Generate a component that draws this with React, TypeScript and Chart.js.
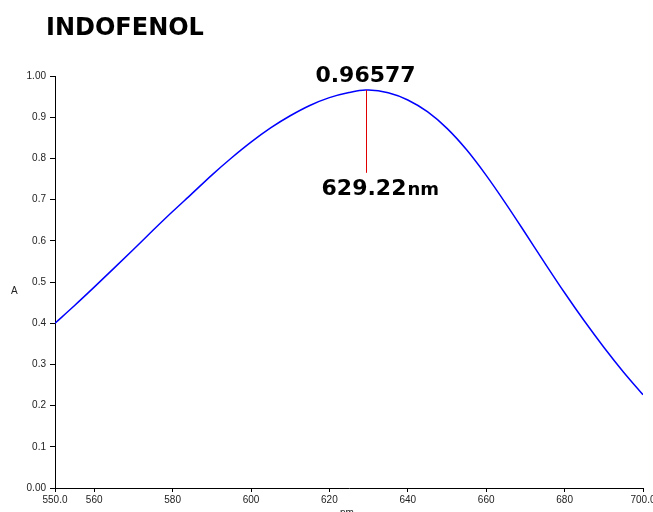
import React, { useEffect, useRef } from "react";
import { Chart, registerables } from "chart.js";

Chart.register(...registerables);

// Absorption spectrum of indophenol (wavelength in nm, absorbance A)
const wavelengths = [
  550, 555, 560, 565, 570, 575, 580, 585, 590, 595, 600, 605, 610, 615, 620, 625,
  629.22, 630, 635, 640, 645, 650, 655, 660, 665, 670, 675, 680, 685, 690, 695, 700,
];
const absorbance = [
  0.4, 0.443, 0.4875, 0.533, 0.579, 0.6255, 0.671, 0.715, 0.7595, 0.801, 0.8395,
  0.874, 0.9035, 0.9285, 0.9475, 0.96, 0.96577, 0.96575, 0.9593, 0.9418, 0.9133,
  0.8728, 0.8208, 0.7588, 0.6903, 0.6183, 0.5453, 0.4738, 0.4058, 0.3418, 0.2818,
  0.2263,
];

const xTickValues = [550, 560, 580, 600, 620, 640, 660, 680, 700];
const yTickValues = [0, 0.1, 0.2, 0.3, 0.4, 0.5, 0.6, 0.7, 0.8, 0.9, 1.0];

const peakWavelength = 629.22;
const peakAbsorbance = 0.96577;
const peakMarkerBottom = 0.765;

const titleText = "INDOFENOL";
const yAxisTitle = "A";
const xAxisTitle = "nm";

const formatX = (v: number) => (v === 550 || v === 700 ? v.toFixed(1) : String(v));
const formatY = (v: number) => (v === 0 || v === 1 ? v.toFixed(2) : v.toFixed(1));

const textPlugin = {
  id: "spectrumText",
  afterDatasetsDraw(chart: any) {
    const { ctx, scales } = chart;
    const xs = scales.x;
    const ys = scales.y;
    ctx.save();

    // title
    ctx.fillStyle = "#000";
    ctx.font = "bold 24px 'DejaVu Sans'";
    ctx.textAlign = "left";
    ctx.textBaseline = "alphabetic";
    ctx.fillText(titleText, 46, 35);

    // axis titles
    ctx.font = "10px 'Liberation Sans'";
    ctx.fillStyle = "#222";
    ctx.textAlign = "left";
    ctx.fillText(yAxisTitle, 11, 294);
    ctx.fillText(xAxisTitle, 340, 516);

    // peak marker
    const px = xs.getPixelForValue(peakWavelength);
    const pyTop = ys.getPixelForValue(peakAbsorbance);
    const pyBottom = ys.getPixelForValue(peakMarkerBottom);
    ctx.strokeStyle = "#e00000";
    ctx.lineWidth = 1;
    ctx.beginPath();
    ctx.moveTo(Math.round(px) + 0.5, pyTop);
    ctx.lineTo(Math.round(px) + 0.5, pyBottom);
    ctx.stroke();

    ctx.fillStyle = "#000";
    ctx.font = "bold 22px 'DejaVu Sans'";
    ctx.textAlign = "center";
    ctx.fillText(peakAbsorbance.toFixed(5), px, pyTop - 8);

    const num = peakWavelength.toFixed(2);
    ctx.textAlign = "left";
    const startX = px - 44;
    ctx.fillText(num, startX, pyBottom + 22);
    const w = ctx.measureText(num).width;
    ctx.font = "bold 18px 'DejaVu Sans'";
    ctx.fillText("nm", startX + w + 1, pyBottom + 22);

    ctx.restore();
  },
};

export default function App() {
  const canvasRef = useRef<HTMLCanvasElement | null>(null);

  useEffect(() => {
    if (!canvasRef.current) return;
    const points = wavelengths.map((x, i) => ({ x, y: absorbance[i] }));
    const chart = new Chart(canvasRef.current, {
      type: "line",
      data: {
        datasets: [
          {
            data: points,
            borderColor: "#0000ff",
            borderWidth: 1.5,
            pointRadius: 0,
            fill: false,
            cubicInterpolationMode: "monotone",
          },
        ],
      },
      options: {
        responsive: false,
        animation: false,
        events: [],
        layout: { padding: { left: 0, top: 76, right: 10, bottom: 0 } },
        plugins: {
          legend: { display: false },
          tooltip: { enabled: false },
          title: { display: false },
        },
        scales: {
          x: {
            type: "linear",
            min: 550,
            max: 700,
            afterBuildTicks: (scale: any) => {
              scale.ticks = xTickValues.map((value) => ({ value }));
            },
            afterFit: (scale: any) => {
              scale.height = 24;
              scale.paddingLeft = 0;
              scale.paddingRight = 0;
            },
            ticks: {
              autoSkip: false,
              maxRotation: 0,
              padding: 2,
              color: "#222",
              font: { family: "'Liberation Sans'", size: 10 },
              callback: (v: any) => formatX(Number(v)),
            },
            grid: {
              drawOnChartArea: false,
              drawTicks: true,
              tickLength: 4,
              color: "#000",
            },
            border: { color: "#000", width: 1 },
          },
          y: {
            type: "linear",
            min: 0,
            max: 1,
            afterBuildTicks: (scale: any) => {
              scale.ticks = yTickValues.map((value) => ({ value }));
            },
            afterFit: (scale: any) => {
              scale.width = 55;
            },
            ticks: {
              autoSkip: false,
              padding: 4,
              color: "#222",
              font: { family: "'Liberation Sans'", size: 10 },
              callback: (v: any) => formatY(Number(v)),
            },
            grid: {
              drawOnChartArea: false,
              drawTicks: true,
              tickLength: 5,
              color: "#000",
            },
            border: { color: "#000", width: 1 },
          },
        },
      },
      plugins: [textPlugin],
    } as any);
    return () => chart.destroy();
  }, []);

  return (
    <div style={{ position: "fixed", left: 0, top: 0, width: 653, height: 512, background: "#fff" }}>
      <canvas ref={canvasRef} width={653} height={512} />
    </div>
  );
}
